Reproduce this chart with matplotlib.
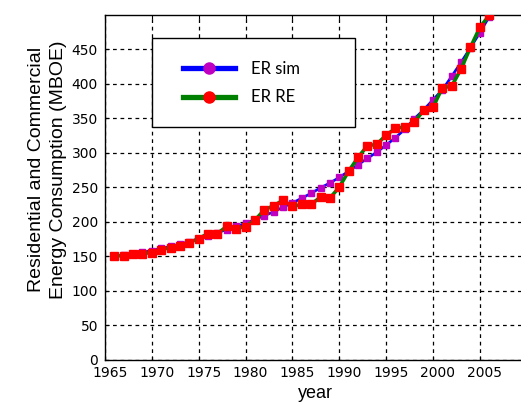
import matplotlib
matplotlib.use("Agg")
from matplotlib import pyplot as plt
from matplotlib.lines import Line2D
from matplotlib.patches import Rectangle
from matplotlib.transforms import ScaledTranslation

years = list(range(1966, 2007))

er_sim = [150, 151.5, 153.5, 155.5, 158, 161, 164, 167.5, 171, 175,
          179.5, 184, 188.5, 193, 197.5, 203, 208.7, 214, 221, 227,
          234, 241, 249, 256, 264, 273, 282.5, 291.6, 300.7, 311,
          321.6, 334, 349, 362, 376.5, 391, 410.7, 431, 452, 474, 497]

er_re = [149.8, 150.8, 153, 153.7, 155, 159.4, 162.3, 165.2, 169.6, 175.4,
         182.6, 182.6, 193.2, 189.9, 192.8, 202, 217, 223, 231, 222,
         225, 225, 235.6, 234, 250, 273, 293, 310, 312, 325.5,
         335, 337.5, 343.7, 361.5, 366, 393.7, 396.5, 421.4, 452.7, 481.6, 499]

xticks = list(range(1965, 2010, 5))
yticks = list(range(0, 500, 50))

fig = plt.figure(figsize=(5.21, 4.05), dpi=100)
ax = fig.add_axes([0.2015, 0.1123, 0.8094, 0.8514])

# simulated series, then the reference series on top
ax.plot(years, er_sim, color="#0000ff", lw=1.9, marker="s", ms=5,
        mfc="#c000c0", mec="#c000c0", zorder=3)
ax.plot(years, er_re, color="#008000", lw=2.6, marker="s", ms=6,
        mfc="#ff0000", mec="#ff0000", zorder=4)

ax.set_xlim(1965, 2010)
ax.set_ylim(0, 500)
ax.set_xticks(xticks)
ax.set_yticks(yticks)
ax.tick_params(direction="in", top=True, right=True, length=3,
               labelsize=10, pad=5)
ax.grid(True, color="black", linestyle=(0, (3, 3)), linewidth=0.9)
for s in ax.spines.values():
    s.set_linewidth(1.0)

# x labels sit a little right of their ticks in the original
shift = ScaledTranslation(5 / 100, 0, fig.dpi_scale_trans)
for lab in ax.get_xticklabels():
    lab.set_transform(lab.get_transform() + shift)

ax.set_xlabel("year", family="Liberation Sans", fontsize=13, labelpad=3)
ax.set_ylabel("Residential and Commercial\nEnergy Consumption (MBOE)",
              family="Liberation Sans", fontsize=14, linespacing=1.4)
ax.yaxis.set_label_coords(-0.09, 0.55)

# legend box drawn separately so its size matches the original
ax.add_patch(Rectangle((0.1115, 0.674), 0.4815, 0.258, transform=ax.transAxes,
                       facecolor="white", edgecolor="black", lw=1.0,
                       zorder=5))
handles = [
    Line2D([], [], color="#0000ff", lw=3.8, marker="o", ms=8,
           mfc="#c000c0", mec="#c000c0"),
    Line2D([], [], color="#008000", lw=3.8, marker="o", ms=8,
           mfc="#ff0000", mec="#ff0000"),
]
leg = ax.legend(handles, ["ER sim", "ER RE"], loc="upper left",
                bbox_to_anchor=(0.185, 0.866), frameon=False,
                prop={"family": "Lato", "size": 12}, borderpad=0,
                handlelength=3.1, handletextpad=1.0, labelspacing=0.75,
                borderaxespad=0)
leg.set_zorder(6)

fig.savefig("out.png", dpi=100)
